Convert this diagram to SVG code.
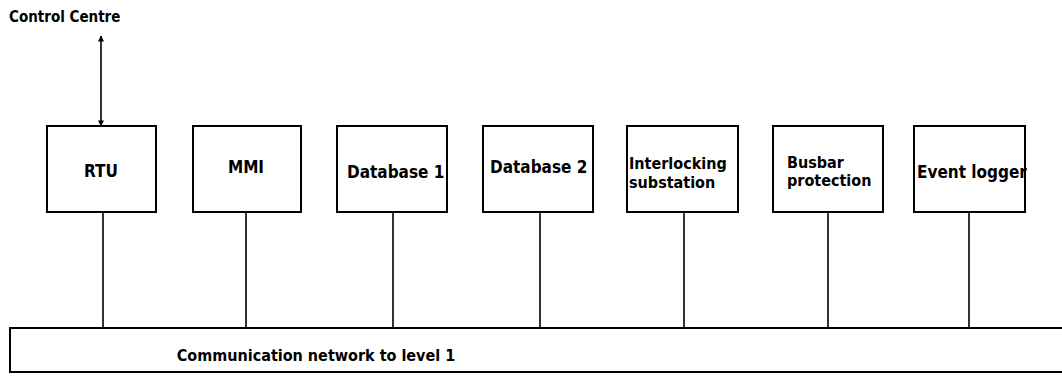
<svg xmlns="http://www.w3.org/2000/svg" width="1062" height="383" viewBox="0 0 1062 383">
<defs>
<style>
.box{fill:#fff;stroke:#000;stroke-width:2}
.ln{stroke:#000;stroke-width:1.6;fill:none}
text{font-family:"DejaVu Sans Condensed","DejaVu Sans",sans-serif;font-weight:bold;font-size:17px;fill:#000}
.two{font-size:16px}
</style>
<marker id="ah" viewBox="0 0 10 10" refX="9" refY="5" markerWidth="9" markerHeight="6" orient="auto-start-reverse" markerUnits="userSpaceOnUse">
<path d="M0,0 L10,5 L0,10 Z" fill="#000"/>
</marker>
</defs>
<rect width="1062" height="383" fill="#fff"/>
<text x="9" y="22" style="font-size:15px">Control Centre</text>
<g id="connectors">
<line class="ln" x1="101" y1="36" x2="101" y2="126" marker-start="url(#ah)" marker-end="url(#ah)"/>
<line class="ln" x1="103" y1="212" x2="103" y2="328"/>
<line class="ln" x1="246" y1="212" x2="246" y2="328"/>
<line class="ln" x1="393" y1="212" x2="393" y2="328"/>
<line class="ln" x1="540" y1="212" x2="540" y2="328"/>
<line class="ln" x1="684" y1="212" x2="684" y2="328"/>
<line class="ln" x1="828" y1="212" x2="828" y2="328"/>
<line class="ln" x1="969" y1="212" x2="969" y2="328"/>
</g>
<g id="rtu"><rect class="box" x="47" y="126" width="109" height="86"/><text x="101" y="177" text-anchor="middle">RTU</text></g>
<g id="mmi"><rect class="box" x="193" y="126" width="108" height="86"/><text x="246" y="173" text-anchor="middle">MMI</text></g>
<g id="db1"><rect class="box" x="337" y="126" width="110" height="86"/><text x="347" y="178">Database 1</text></g>
<g id="db2"><rect class="box" x="483" y="126" width="110" height="86"/><text x="490" y="173">Database 2</text></g>
<g id="interlock"><rect class="box" x="627" y="126" width="111" height="86"/><text class="two" x="629" y="169">Interlocking</text><text class="two" x="629" y="188">substation</text></g>
<g id="busbar"><rect class="box" x="773" y="126" width="110" height="86"/><text class="two" x="787" y="168">Busbar</text><text class="two" x="787" y="186">protection</text></g>
<g id="logger"><rect class="box" x="914" y="126" width="111" height="86"/><text x="917" y="178">Event logger</text></g>
<g id="bus"><rect class="box" x="10" y="328" width="1060" height="44"/><text x="316" y="361" text-anchor="middle" style="font-size:16px">Communication network to level 1</text></g>
</svg>
